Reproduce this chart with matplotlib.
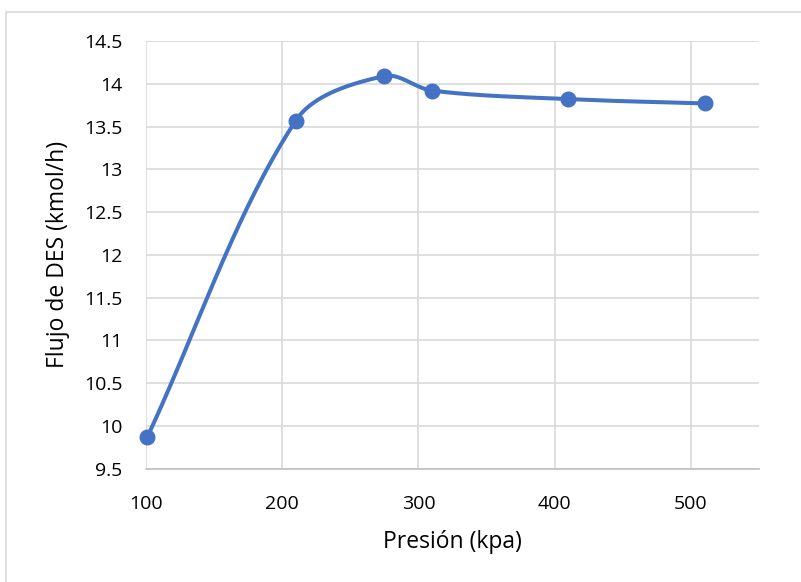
import numpy as np
import matplotlib
matplotlib.use("Agg")
import matplotlib.pyplot as plt
from matplotlib.patches import Rectangle
from matplotlib.ticker import FuncFormatter

# Pressure (kPa) vs DES flow (kmol/h)
presion = [101, 210, 275, 310, 410, 510]
flujo_des = [9.87, 13.57, 14.09, 13.92, 13.82, 13.77]
x_ticks = [100, 200, 300, 400, 500]
y_ticks = [9.5, 10, 10.5, 11, 11.5, 12, 12.5, 13, 13.5, 14, 14.5]
x_label = "Presión (kpa)"
y_label = "Flujo de DES (kmol/h)"

BLUE = "#4472C4"
GRID = "#d9d9d9"
FONT = ["Open Sans", "DejaVu Sans"]
plt.rcParams["font.family"] = FONT

W, H = 801, 582
fig = plt.figure(figsize=(W / 100, H / 100), dpi=100)

# chart-area border (only left/top edges fall inside the canvas)
fig.patches.append(Rectangle((6 / W, -0.5), 2.0, 1.5 - 12 / H,
                             transform=fig.transFigure, fill=False,
                             edgecolor=GRID, linewidth=1.2))

left, right, top, bottom = 146, 759, 41, 468.5
ax = fig.add_axes([left / W, 1 - bottom / H, (right - left) / W, (bottom - top) / H])
ax.set_xlim(100, 550)
ax.set_ylim(9.5, 14.5)
ax.set_xticks(x_ticks)
ax.set_yticks(y_ticks)
ax.yaxis.set_major_formatter(FuncFormatter(lambda v, p: f"{v:g}"))
ax.tick_params(length=0, labelsize=14, labelcolor="#000000")
ax.tick_params(axis="y", pad=17)
ax.tick_params(axis="x", pad=19)
ax.grid(True, color=GRID, linewidth=1.2)
ax.set_axisbelow(True)
for s in ("top", "right", "left"):
    ax.spines[s].set_visible(False)
ax.spines["bottom"].set_color("#bfbfbf")
ax.spines["bottom"].set_linewidth(1.2)

# smoothed line: cubic Bezier segments, handles scaled by chord lengths (pixel space)
pts = ax.transData.transform(np.column_stack([presion, flujo_des]))
ext = np.vstack([pts[0], pts, pts[-1]])
dist = lambda a, b: np.hypot(*(b - a))
curve = []
t = np.linspace(0, 1, 80)[:, None]
for i in range(len(pts) - 1):
    q0, p0, p1, q1 = ext[i], ext[i + 1], ext[i + 2], ext[i + 3]
    d0, d1, d2 = dist(q0, p0), dist(p0, p1), dist(p1, q1)
    c1 = p0 + (p1 - q0) * (d1 / (d0 + d1)) / 3
    c2 = p1 - (q1 - p0) * (d1 / (d1 + d2)) / 3
    seg = ((1 - t) ** 3) * p0 + 3 * ((1 - t) ** 2) * t * c1 + 3 * (1 - t) * t ** 2 * c2 + t ** 3 * p1
    curve.append(seg)
curve = ax.transData.inverted().transform(np.vstack(curve))
ax.plot(curve[:, 0], curve[:, 1], color=BLUE, linewidth=2.9,
        solid_capstyle="round", zorder=3)
ax.plot(presion, flujo_des, linestyle="none", marker="o", markersize=10.5,
        color=BLUE, zorder=4, clip_on=False)

fig.text(452 / W, 1 - 548 / H, x_label, ha="center", va="baseline", fontsize=16.5)
fig.text(58 / W, 1 - 254.5 / H, y_label, ha="center", va="center",
         rotation=90, fontsize=16.5)

fig.savefig("out.png", dpi=100)
